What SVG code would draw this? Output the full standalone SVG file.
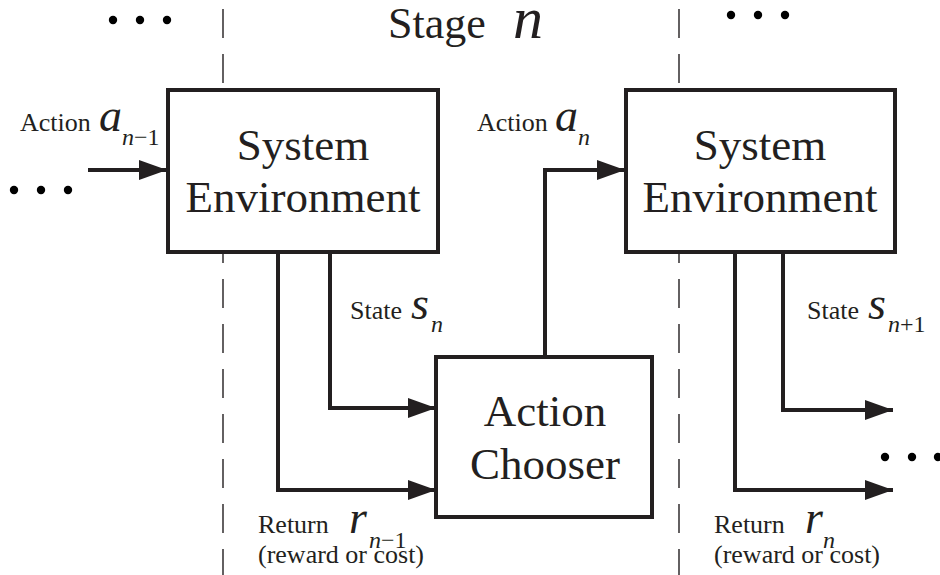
<svg xmlns="http://www.w3.org/2000/svg" width="940" height="575" viewBox="0 0 940 575">
  <defs>
    <marker id="arrow" markerWidth="28" markerHeight="20" refX="28" refY="10" orient="auto" markerUnits="userSpaceOnUse">
      <path d="M0,0 L28,10 L0,20 Z" fill="#231f20"/>
    </marker>
  </defs>
  <style>
    .box { fill: #fff; stroke: #231f20; stroke-width: 4; }
    .wire { fill: none; stroke: #231f20; stroke-width: 4; marker-end: url(#arrow); }
    .divider { stroke: #231f20; stroke-width: 1.4; stroke-dasharray: 29 16; }
    .big { font-family: "Liberation Serif", serif; font-size: 45px; fill: #231f20; text-anchor: middle; }
    .lbl { font-family: "Liberation Serif", serif; font-size: 26px; fill: #231f20; }
    .var { font-family: "Liberation Serif", serif; font-style: italic; font-size: 46px; fill: #231f20; }
    .sub { font-family: "Liberation Serif", serif; font-size: 24px; fill: #231f20; }
    .dot { fill: #000; }
  </style>
  <rect width="940" height="575" fill="#fff"/>

  <!-- stage boundaries -->
  <g id="dividers">
    <line class="divider" x1="223" y1="9" x2="223" y2="575"/>
    <line class="divider" x1="679" y1="9" x2="679" y2="575"/>
  </g>

  <!-- stage title -->
  <g id="title">
    <text x="388" y="38" font-family="Liberation Serif, serif" font-size="44" fill="#231f20">Stage</text>
    <text x="513" y="38" font-family="Liberation Serif, serif" font-style="italic" font-size="60" fill="#231f20">n</text>
  </g>

  <!-- ellipses -->
  <g id="ellipses">
    <circle class="dot" cx="113" cy="20" r="4.2"/>
    <circle class="dot" cx="140" cy="20" r="4.2"/>
    <circle class="dot" cx="167" cy="20" r="4.2"/>
    <circle class="dot" cx="14" cy="190" r="4.2"/>
    <circle class="dot" cx="41" cy="190" r="4.2"/>
    <circle class="dot" cx="68" cy="190" r="4.2"/>
    <circle class="dot" cx="731" cy="15" r="4.2"/>
    <circle class="dot" cx="758" cy="15" r="4.2"/>
    <circle class="dot" cx="785" cy="15" r="4.2"/>
    <circle class="dot" cx="885" cy="457" r="4.2"/>
    <circle class="dot" cx="912" cy="457" r="4.2"/>
    <circle class="dot" cx="938" cy="457" r="4.2"/>
  </g>

  <!-- connectors -->
  <g id="connectors">
    <path class="wire" d="M88,170 H167"/>
    <path class="wire" d="M330,252 V408 H436"/>
    <path class="wire" d="M278,252 V490 H436"/>
    <path class="wire" d="M545,357 V170 H625"/>
    <path class="wire" d="M783,252 V410 H893"/>
    <path class="wire" d="M735,252 V490 H893"/>
  </g>

  <g id="env1">
    <rect class="box" x="168" y="90" width="270" height="162"/>
    <text class="big" x="303" y="160">System</text>
    <text class="big" x="303" y="212">Environment</text>
  </g>

  <g id="env2">
    <rect class="box" x="626" y="90" width="269" height="162"/>
    <text class="big" x="760" y="160">System</text>
    <text class="big" x="760" y="212">Environment</text>
  </g>

  <g id="chooser">
    <rect class="box" x="436" y="357" width="216" height="160"/>
    <text class="big" x="545" y="426">Action</text>
    <text class="big" x="545" y="479">Chooser</text>
  </g>

  <!-- signal labels -->
  <g id="labels">
    <text class="lbl" x="20" y="131">Action</text>
    <text class="var" x="99" y="131">a</text>
    <text class="sub" x="122" y="145"><tspan font-style="italic">n</tspan>−1</text>

    <text class="lbl" x="477" y="131">Action</text>
    <text class="var" x="555" y="131">a</text>
    <text class="sub" x="578" y="145" font-style="italic">n</text>

    <text class="lbl" x="350" y="319">State</text>
    <text class="var" x="411" y="319">s</text>
    <text class="sub" x="431" y="332" font-style="italic">n</text>

    <text class="lbl" x="807" y="319">State</text>
    <text class="var" x="868" y="319">s</text>
    <text class="sub" x="888" y="332"><tspan font-style="italic">n</tspan>+1</text>

    <text class="lbl" x="258" y="533">Return</text>
    <text class="var" x="349" y="533">r</text>
    <text class="sub" x="369" y="548"><tspan font-style="italic">n</tspan>−1</text>
    <text class="lbl" x="258" y="563">(reward or cost)</text>

    <text class="lbl" x="714" y="533">Return</text>
    <text class="var" x="805" y="533">r</text>
    <text class="sub" x="823" y="548" font-style="italic">n</text>
    <text class="lbl" x="714" y="563">(reward or cost)</text>
  </g>
</svg>
